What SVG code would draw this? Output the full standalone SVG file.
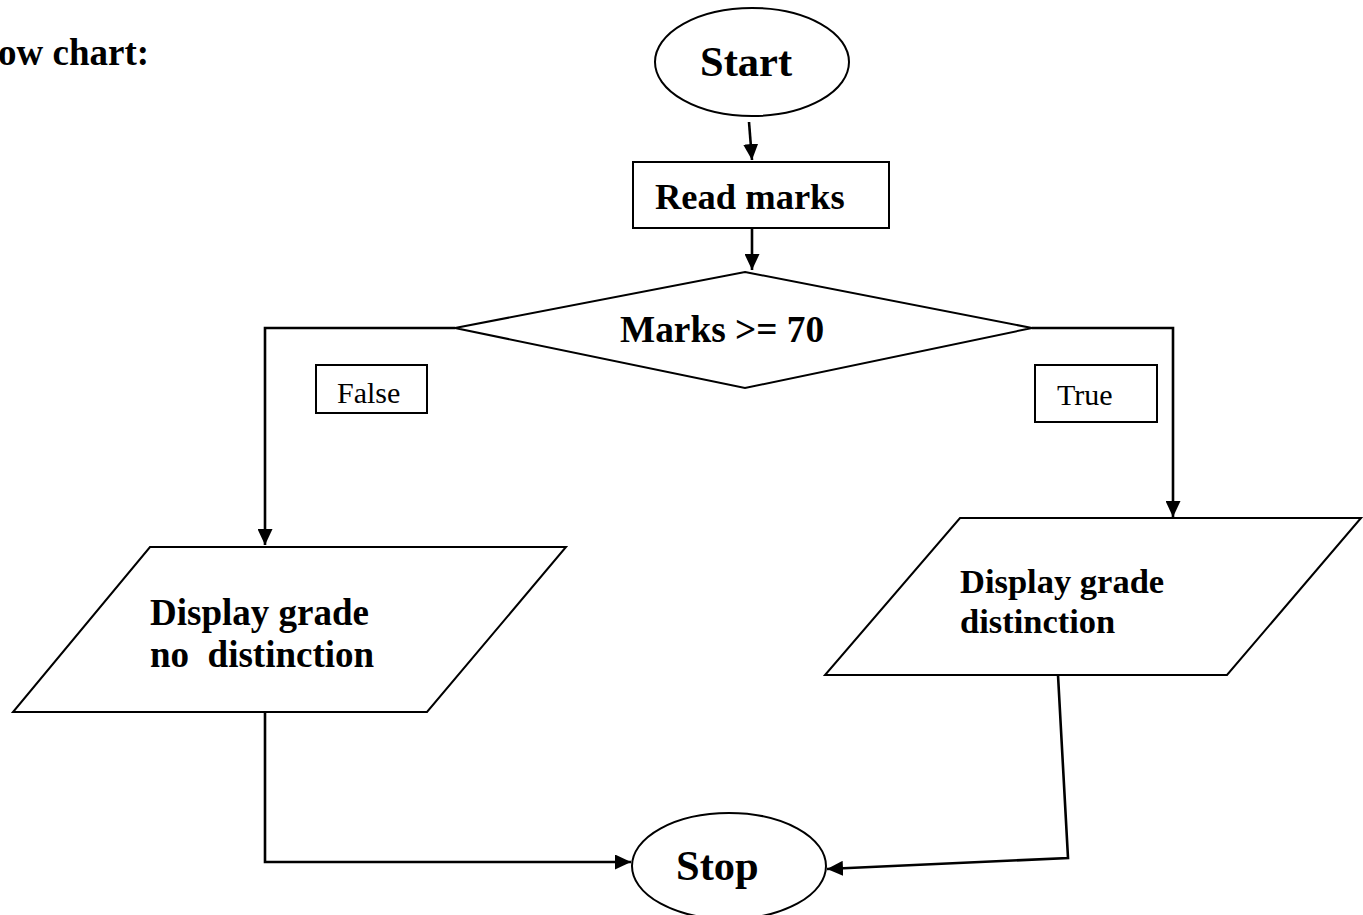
<svg xmlns="http://www.w3.org/2000/svg" width="1363" height="915" viewBox="0 0 1363 915">
  <style>
    .shape { fill: #fff; stroke: #000; stroke-width: 2; }
    .label-box { fill: #fff; stroke: #000; stroke-width: 2; }
    .conn { fill: none; stroke: #000; stroke-width: 2.6; }
    .b { font-family: "Liberation Serif", "Times New Roman", serif; font-weight: bold; fill: #000; }
    .r { font-family: "Liberation Serif", "Times New Roman", serif; fill: #000; }
  </style>
  <defs>
    <marker id="arrow" markerUnits="userSpaceOnUse" markerWidth="17" markerHeight="15" refX="16" refY="7.5" orient="auto">
      <path d="M0,0 L16,7.5 L0,15 z" fill="#000"/>
    </marker>
  </defs>
  <rect width="1363" height="915" fill="#fff"/>

  <text class="b" x="-2" y="65" font-size="37">ow chart:</text>

  <!-- connectors -->
  <g id="connectors">
    <path class="conn" d="M749,122 L752,160" marker-end="url(#arrow)"/>
    <path class="conn" d="M752,228 L752,270" marker-end="url(#arrow)"/>
    <path class="conn" d="M455,328 L265,328 L265,545" marker-end="url(#arrow)"/>
    <path class="conn" d="M1032,328 L1173,328 L1173,517" marker-end="url(#arrow)"/>
    <path class="conn" d="M265,712 L265,862 L631,862" marker-end="url(#arrow)"/>
    <path class="conn" d="M1058,675 L1068,858 L827,869" marker-end="url(#arrow)"/>
  </g>

  <g id="start">
    <ellipse class="shape" cx="752" cy="62" rx="97" ry="54"/>
    <text class="b" x="700" y="76" font-size="42.5">Start</text>
  </g>

  <g id="read-marks">
    <rect class="shape" x="633" y="162" width="256" height="66"/>
    <text class="b" x="655" y="209" font-size="36.5">Read marks</text>
  </g>

  <g id="decision">
    <polygon class="shape" points="745,272 1032,328 745,388 455,328"/>
    <text class="b" x="620" y="342" font-size="37.3">Marks &gt;= 70</text>
  </g>

  <g id="label-false">
    <rect class="label-box" x="316" y="365" width="111" height="48"/>
    <text class="r" x="337" y="403" font-size="30">False</text>
  </g>

  <g id="label-true">
    <rect class="label-box" x="1035" y="365" width="122" height="57"/>
    <text class="r" x="1057" y="405" font-size="30">True</text>
  </g>

  <g id="no-distinction">
    <polygon class="shape" points="150,547 566,547 427,712 13,712"/>
    <text class="b" x="150" y="625" font-size="37">Display grade</text>
    <text class="b" x="150" y="667" font-size="37" xml:space="preserve">no  distinction</text>
  </g>

  <g id="distinction">
    <polygon class="shape" points="960,518 1361,518 1227,675 825,675"/>
    <text class="b" x="960" y="593" font-size="34.5">Display grade</text>
    <text class="b" x="960" y="633" font-size="34.5">distinction</text>
  </g>

  <g id="stop">
    <ellipse class="shape" cx="729" cy="866" rx="97" ry="53"/>
    <text class="b" x="676" y="880" font-size="42.5">Stop</text>
  </g>
</svg>
